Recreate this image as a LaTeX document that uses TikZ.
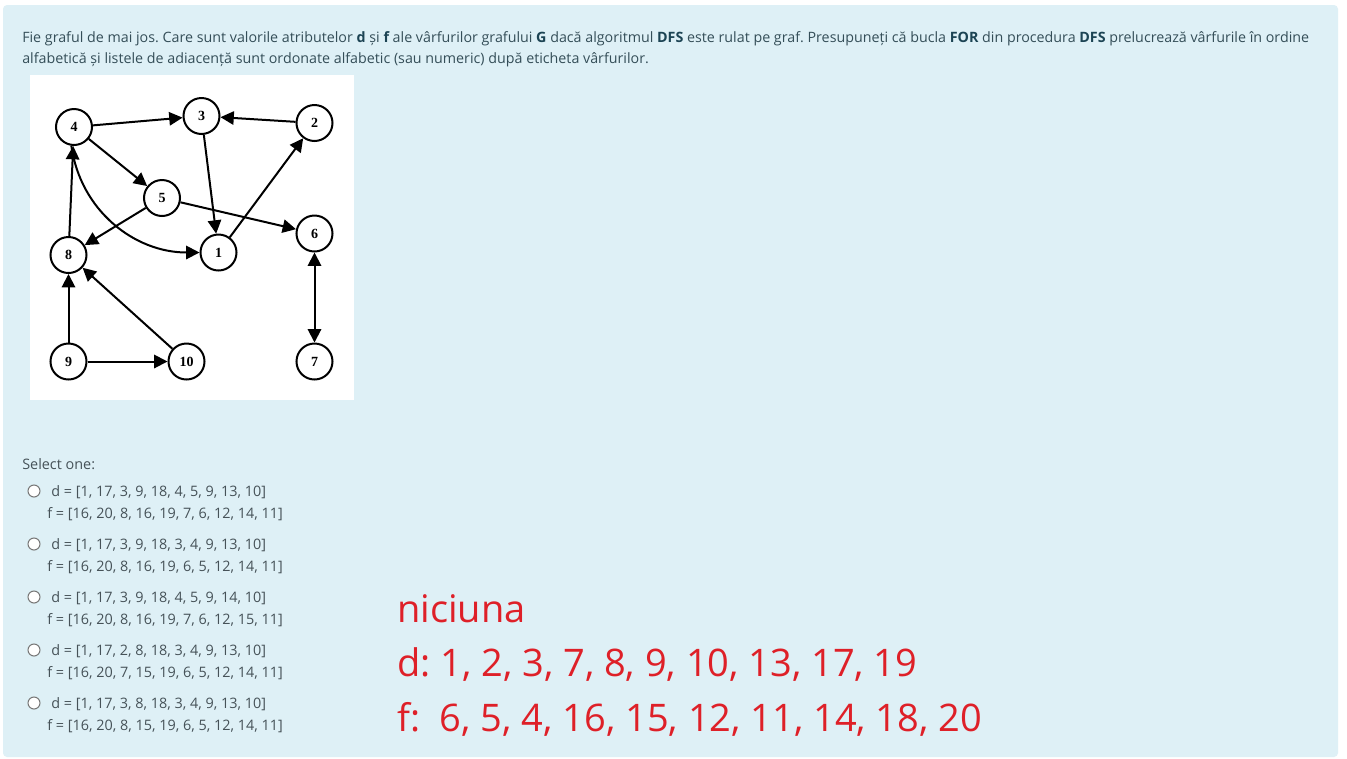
\documentclass[tikz,border=0pt]{standalone}
\usepackage{fontspec}
\setmainfont{Open Sans}
\newfontfamily\nodefont{Liberation Serif}
\usetikzlibrary{arrows.meta}
\definecolor{panel}{RGB}{222,240,246}
\definecolor{txt}{RGB}{52,78,88}
\definecolor{boldc}{RGB}{28,68,84}
\definecolor{opt}{RGB}{70,82,88}
\definecolor{redt}{RGB}{222,32,40}
\newcommand{\hb}[1]{\textbf{\color{boldc}#1}}
\frenchspacing
\begin{document}
\begin{tikzpicture}[x=0.75pt,y=-0.75pt,
  vert/.style={circle,draw=black,line width=1.5pt,fill=white,minimum size=27pt,inner sep=0pt,font=\nodefont\bfseries\fontsize{10.5}{12}\selectfont},
  edge/.style={line width=1.5pt,-{Triangle[length=10pt,width=10pt]}},
  bedge/.style={line width=1.5pt,{Triangle[length=10pt,width=10pt]}-{Triangle[length=10pt,width=10pt]}},
  toptxt/.style={anchor=base west,inner sep=0pt,text=txt,font=\fontsize{10.7}{12}\selectfont},
  opttxt/.style={anchor=base west,inner sep=0pt,text=opt,font=\fontsize{10.8}{12}\selectfont},
  redtxt/.style={anchor=base west,inner sep=0pt,text=redt,font=\fontsize{28.5}{30}\selectfont},
  radio/.style={circle,draw={rgb,255:red,120;green,120;blue,120},fill=white,line width=0.8pt,minimum size=9pt,inner sep=0pt}]
\useasboundingbox (0,0) rectangle (1347,758);
\fill[white] (0,0) rectangle (1347,758);
\fill[panel,rounded corners=3pt] (3,5) rectangle (1338,757);
\fill[white] (30,75) rectangle (354,400);
% question text
\node[toptxt] (q1) at (22,42) {Fie graful de mai jos. Care sunt valorile atributelor \hb{d} și \hb{f} ale vârfurilor grafului \hb{G} dacă algoritmul \hb{DFS} este rulat pe graf. Presupuneți că bucla \hb{FOR} din procedura \hb{DFS} prelucrează vârfurile în ordine};
\node[toptxt] (q2) at (22,63) {alfabetică și listele de adiacență sunt ordonate alfabetic (sau numeric) după eticheta vârfurilor.};
% graph
\node[vert] (n4) at (74,127) {4};
\node[vert] (n3) at (201.5,116) {3};
\node[vert] (n2) at (314.5,123) {2};
\node[vert] (n5) at (162,198) {5};
\node[vert] (n6) at (314.5,233.5) {6};
\node[vert] (n1) at (218.5,252.5) {1};
\node[vert] (n8) at (68.5,255) {8};
\node[vert] (n9) at (68.5,361.5) {9};
\node[vert] (n10) at (186.5,361.5) {10};
\node[vert] (n7) at (314.5,361.5) {7};
\draw[edge] (n4) -- (n3);
\draw[edge] (n2) -- (n3);
\draw[edge] (n3) -- (n1);
\draw[edge] (n1) -- (n2);
\draw[edge] (n4) -- (n5);
\draw[edge] (n5) -- (n8);
\draw[edge] (n5) -- (n6);
\draw[edge] (n8) -- (n4);
\draw[edge] (n4.-98) to[out=-82,in=180] (n1);
\draw[edge] (n9) -- (n8);
\draw[edge] (n9) -- (n10);
\draw[edge] (n10) -- (n8);
\draw[bedge] (n6) -- (n7);
% options
\node[opttxt] (sel) at (22,469) {Select one:};
\node[radio] (r1) at (34,491) {};
\node[opttxt] (d1) at (51,496) {d = [1, 17, 3, 9, 18, 4, 5, 9, 13, 10]};
\node[opttxt] (f1) at (47,518) {f = [16, 20, 8, 16, 19, 7, 6, 12, 14, 11]};
\node[radio] (r2) at (34,544) {};
\node[opttxt] (d2) at (51,549) {d = [1, 17, 3, 9, 18, 3, 4, 9, 13, 10]};
\node[opttxt] (f2) at (47,571) {f = [16, 20, 8, 16, 19, 6, 5, 12, 14, 11]};
\node[radio] (r3) at (34,597) {};
\node[opttxt] (d3) at (51,602) {d = [1, 17, 3, 9, 18, 4, 5, 9, 14, 10]};
\node[opttxt] (f3) at (47,624) {f = [16, 20, 8, 16, 19, 7, 6, 12, 15, 11]};
\node[radio] (r4) at (34,650) {};
\node[opttxt] (d4) at (51,655) {d = [1, 17, 2, 8, 18, 3, 4, 9, 13, 10]};
\node[opttxt] (f4) at (47,677) {f = [16, 20, 7, 15, 19, 6, 5, 12, 14, 11]};
\node[radio] (r5) at (34,703) {};
\node[opttxt] (d5) at (51,708) {d = [1, 17, 3, 8, 18, 3, 4, 9, 13, 10]};
\node[opttxt] (f5) at (47,730) {f = [16, 20, 8, 15, 19, 6, 5, 12, 14, 11]};
% red answer
\node[redtxt] (a0) at (397,622) {niciuna};
\node[redtxt] (a1) at (397,676) {d: 1, 2, 3, 7, 8, 9, 10, 13, 17, 19};
\node[redtxt] (a2) at (397,731) {f:\ \ 6, 5, 4, 16, 15, 12, 11, 14, 18, 20};
\end{tikzpicture}
\end{document}
